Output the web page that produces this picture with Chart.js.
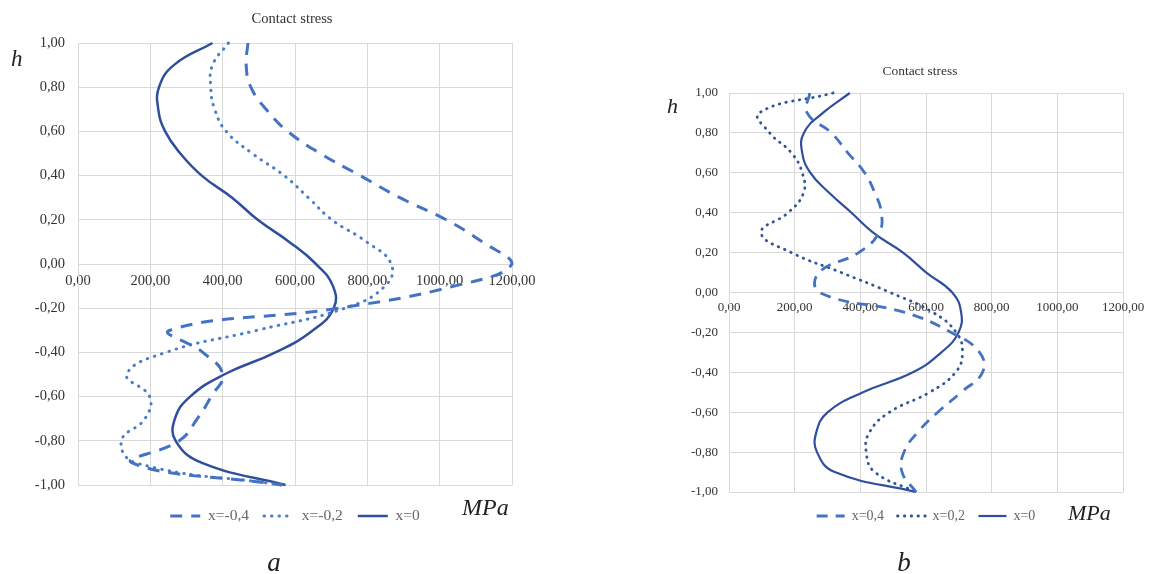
<!DOCTYPE html>
<html>
<head>
<meta charset="utf-8">
<script src="https://cdn.jsdelivr.net/npm/chart.js@4.4.1/dist/chart.umd.min.js"></script>
<style>
html, body { margin: 0; padding: 0; background: #fff; }
body { width: 1152px; height: 574px; position: relative; overflow: hidden; font-family: "Liberation Serif", serif; }
canvas { position: absolute; top: 0; }
.t { position: absolute; white-space: nowrap; line-height: 1; color: #222; }
.c { transform: translateX(-50%); }
.i { font-style: italic; }
</style>
</head>
<body>
<canvas id="chartA" width="576" height="574" style="left:0"></canvas>
<canvas id="chartB" width="576" height="574" style="left:576px"></canvas>

<div class="t c" style="left:292px; top:10.5px; font-size:14.5px; color:#333">Contact stress</div>
<div class="t c" style="left:920px; top:63.5px; font-size:13.4px; color:#333">Contact stress</div>
<div class="t i" style="left:11px; top:46.7px; font-size:23px">h</div>
<div class="t i" style="left:667px; top:94.6px; font-size:22px">h</div>
<div class="t i" style="left:462px; top:495px; font-size:24px">MPa</div>
<div class="t i" style="left:1068px; top:501.6px; font-size:22px">MPa</div>
<div class="t i c" style="left:274px; top:549.4px; font-size:27px">a</div>
<div class="t i c" style="left:904px; top:549.4px; font-size:27px">b</div>

<script>
// h levels (same for both charts)
const hLevels = [1.0, 0.9, 0.8, 0.7, 0.6, 0.5, 0.4, 0.3, 0.2, 0.1, 0.0,
                 -0.1, -0.2, -0.3, -0.4, -0.5, -0.6, -0.7, -0.8, -0.9, -1.0];

// chart a, MPa
const stressA_xm04 = [470, 465, 478, 520, 580, 670, 780, 890, 1018, 1118, 1200,
                      1040, 720, 254, 345, 400, 368, 330, 280, 150, 564];
const stressA_xm02 = [416, 372, 367, 378, 410, 482, 570, 637, 702, 798, 866,
                      849, 738, 495, 243, 135, 198, 185, 120, 160, 564];
const stressA_x0 = [372, 265, 224, 222, 241, 283, 342, 426, 497, 584, 658,
                    705, 707, 650, 546, 404, 310, 268, 270, 343, 574];

// chart b, MPa
const stressB_x04 = [246, 238, 312, 362, 413, 444, 464, 457, 395, 274, 276,
                     535, 677, 763, 772, 707, 636, 575, 533, 527, 570];
const stressB_x02 = [317, 92, 124, 190, 223, 227, 180, 98, 190, 342, 491,
                     621, 692, 711, 690, 611, 489, 428, 418, 444, 570];
const stressB_x0 = [368, 286, 228, 223, 248, 305, 373, 439, 530, 601, 680,
                    707, 699, 647, 560, 408, 301, 266, 268, 322, 570];

const legendA = ['x=-0,4', 'x=-0,2', 'x=0'];
const legendB = ['x=0,4', 'x=0,2', 'x=0'];

const xTickValues = [0, 200, 400, 600, 800, 1000, 1200];
const yTickValues = [-1, -0.8, -0.6, -0.4, -0.2, 0, 0.2, 0.4, 0.6, 0.8, 1];

const fmt = v => (Math.abs(v) < 1e-9 ? 0 : v).toFixed(2).replace('.', ',');
const pts = (hs, xs) => xs.map((x, i) => ({x: x, y: hs[i]}));

function makeChart(id, o) {
    const tickFont = {family: 'Liberation Serif', size: o.tickSize};
    return new Chart(document.getElementById(id), {
        type: 'scatter',
        data: {
            datasets: o.series.map(s => ({
                label: s.label,
                data: pts(hLevels, s.values),
                showLine: true,
                pointRadius: 0,
                pointHoverRadius: 0,
                borderColor: s.color,
                backgroundColor: s.color,
                borderWidth: s.width,
                borderDash: s.dash,
                borderCapStyle: s.cap,
                tension: 0.45,
                fill: false,
                clip: false
            }))
        },
        options: {
            responsive: false,
            animation: false,
            events: [],
            layout: {padding: o.pad},
            scales: {
                x: {
                    type: 'linear',
                    position: {y: 0},
                    min: 0,
                    max: 1200,
                    afterBuildTicks: s => { s.ticks = xTickValues.map(v => ({value: v})); },
                    afterFit: s => { s.height = 0; },
                    grid: {color: '#d9d9d9', drawTicks: false},
                    border: {color: '#d9d9d9'},
                    ticks: {font: tickFont, color: '#333', padding: o.xPad, maxRotation: 0, autoSkip: false,
                            callback: v => fmt(v)}
                },
                y: {
                    type: 'linear',
                    position: 'left',
                    min: -1,
                    max: 1,
                    afterBuildTicks: s => { s.ticks = yTickValues.map(v => ({value: v})); },
                    afterFit: s => { s.width = o.yWidth; },
                    grid: {color: '#d9d9d9', drawTicks: false},
                    border: {color: '#d9d9d9'},
                    ticks: {font: tickFont, color: '#333', padding: o.yPad, autoSkip: false,
                            callback: v => fmt(v)}
                }
            },
            plugins: {
                tooltip: {enabled: false},
                legend: {
                    position: 'bottom',
                    fullSize: false,
                    title: {display: true, text: '', padding: 0, font: {size: 1, lineHeight: o.legTitleH + 'px'}},
                    labels: {
                        usePointStyle: true,
                        pointStyleWidth: o.legBox,
                        padding: o.legPad,
                        color: '#222',
                        font: {family: 'Liberation Serif', size: o.legSize},
                        generateLabels: chart => chart.data.datasets.map((d, i) => ({
                            text: d.label,
                            datasetIndex: i,
                            pointStyle: 'line',
                            strokeStyle: d.borderColor,
                            fillStyle: d.borderColor,
                            lineWidth: d.borderWidth,
                            lineDash: d.borderDash,
                            lineCap: d.borderCapStyle,
                            hidden: false
                        }))
                    }
                }
            }
        }
    });
}

makeChart('chartA', {
    pad: {left: 8, right: 64, top: 43, bottom: 40.25},
    yWidth: 70, yPad: 13, xPad: 8.3, tickSize: 14.5,
    legSize: 15.5, legPad: 15, legTitleH: 8.25, legBox: 30,
    series: [
        {label: legendA[0], values: stressA_xm04, color: '#4472c4', width: 3, dash: [12, 9], cap: 'butt'},
        {label: legendA[1], values: stressA_xm02, color: '#4a7ec8', width: 3, dash: [0.5, 7], cap: 'round'},
        {label: legendA[2], values: stressA_x0, color: '#2f4f9d', width: 2.5, dash: [], cap: 'butt'}
    ]
});

makeChart('chartB', {
    pad: {left: 8, right: 29, top: 93, bottom: 41},
    yWidth: 145, yPad: 11, xPad: 7.7, tickSize: 13,
    legSize: 14, legPad: 13.5, legTitleH: 3.5, legBox: 28,
    series: [
        {label: legendB[0], values: stressB_x04, color: '#4472c4', width: 2.8, dash: [11, 8], cap: 'butt'},
        {label: legendB[1], values: stressB_x02, color: '#2f5597', width: 2.8, dash: [0.5, 6.3], cap: 'round'},
        {label: legendB[2], values: stressB_x0, color: '#2f4f9d', width: 2.2, dash: [], cap: 'butt'}
    ]
});
</script>
</body>
</html>
